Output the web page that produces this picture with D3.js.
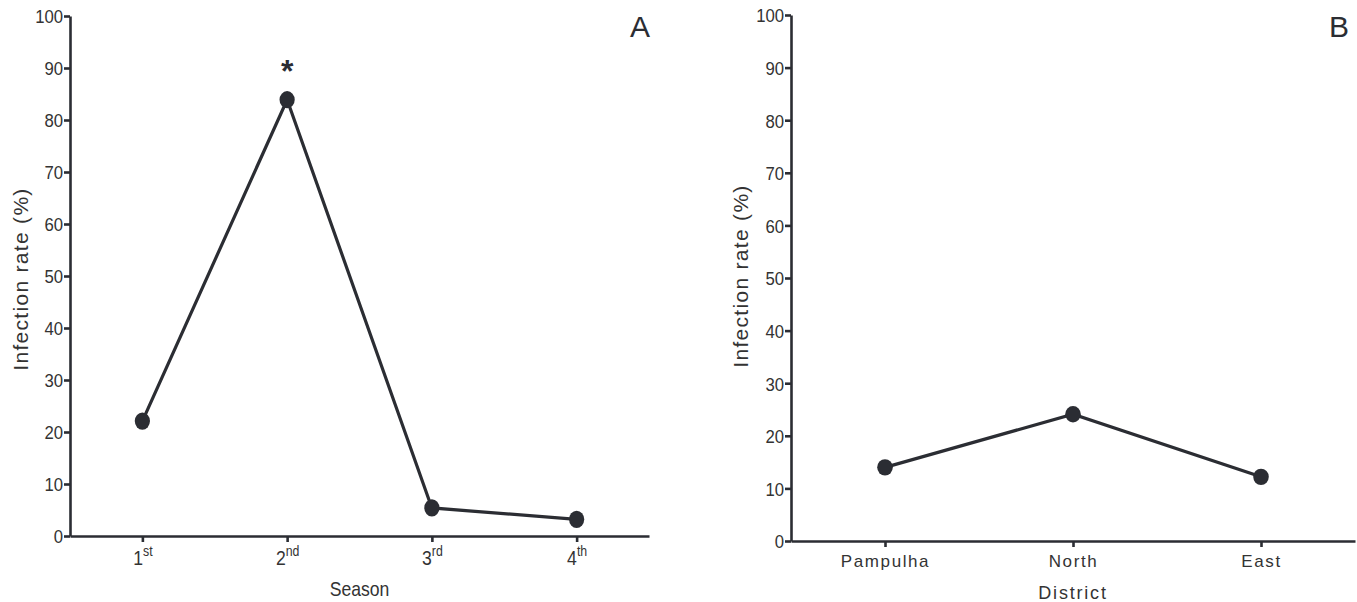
<!DOCTYPE html>
<html>
<head>
<meta charset="utf-8">
<script src="https://cdn.jsdelivr.net/npm/d3@7"></script>
<style>
  body { margin: 0; background: #fff; }
  svg { display: block; font-family: "Liberation Sans", Arial, sans-serif; }
</style>
</head>
<body>
<svg id="canvas"></svg>
<script>
// panel A - season
let seasons = ["1", "2", "3", "4"];
let seasonSup = ["st", "nd", "rd", "th"];
let seasonRates = [22.1, 83.9, 5.4, 3.2];
let starSeason = "2";

// panel B - district
let districts = ["Pampulha", "North", "East"];
let districtRates = [14.0, 24.1, 12.2];

let yTicks = [0, 10, 20, 30, 40, 50, 60, 70, 80, 90, 100];

let width = 1357;
let height = 602;
let ink = "#2b2d33";
let squeeze = 0.88;

let canvas = d3.select("#canvas");
canvas.attr("width", width).attr("height", height);

let drawPanel = (opt) => {
  let xScale = d3.scalePoint().domain(opt.cats).range([opt.x0, opt.x1]).padding(0.5);
  let yScale = d3.scaleLinear().domain([0, 100]).range([opt.y0, opt.y1]);

  let g = canvas.append("g");

  // y axis
  let yAxis = d3.axisLeft(yScale).tickValues(yTicks).tickSize(6).tickSizeOuter(0);
  let yg = g.append("g")
    .attr("transform", "translate(" + opt.x0 + ",0)")
    .call(yAxis);
  yg.select(".domain").attr("stroke", ink).attr("stroke-width", 2.6);
  yg.selectAll(".tick line").attr("stroke", ink).attr("stroke-width", 2.6);
  yg.selectAll(".tick text")
    .attr("x", -7 / squeeze)
    .attr("dy", "0.36em")
    .attr("transform", "scale(" + squeeze + ",1)")
    .attr("fill", "#333")
    .style("font-size", "19px");

  // x axis
  let xAxis = d3.axisBottom(xScale).tickSize(6).tickSizeOuter(0);
  let xg = g.append("g")
    .attr("transform", "translate(0," + opt.y0 + ")")
    .call(xAxis);
  xg.select(".domain").attr("stroke", ink).attr("stroke-width", 2.6);
  xg.selectAll(".tick line").attr("stroke", ink).attr("stroke-width", 2.6);
  xg.selectAll(".tick text")
    .attr("fill", "#333")
    .attr("y", opt.tickY)
    .attr("dy", 0)
    .style("font-size", opt.sup ? "20px" : "17px")
    .style("letter-spacing", opt.sup ? "0px" : "1.6px");

  if (opt.sup) {
    xg.selectAll(".tick text")
      .attr("transform", "scale(" + squeeze + ",1)")
      .each(function (d, i) {
        let t = d3.select(this);
        t.text(d);
        t.append("tspan")
          .attr("dy", -9)
          .style("font-size", "14px")
          .text(opt.sup[i]);
      });
  }

  // axis titles
  g.append("text")
    .attr("transform", "translate(" + (opt.x0 + opt.x1) / 2 + "," + opt.xTitleY + ") scale(" + opt.xTitleScale + ",1)")
    .attr("text-anchor", "middle")
    .attr("fill", "#333")
    .style("font-size", opt.xTitleSize)
    .style("letter-spacing", opt.xTitleSpacing)
    .text(opt.xTitle);

  g.append("text")
    .attr("transform", "translate(" + opt.yTitleX + "," + opt.yTitleMid + ") rotate(-90)")
    .attr("text-anchor", "middle")
    .attr("fill", "#333")
    .style("font-size", "21px")
    .style("letter-spacing", "1.3px")
    .text("Infection rate (%)");

  // panel letter
  g.append("text")
    .attr("x", opt.letterX)
    .attr("y", 37)
    .attr("text-anchor", "middle")
    .attr("fill", ink)
    .style("font-size", "30px")
    .text(opt.letter);

  // line + markers
  let pts = opt.cats.map((c, i) => ({ c: c, v: opt.values[i] }));
  let line = d3.line().x((d) => xScale(d.c)).y((d) => yScale(d.v));
  g.append("path")
    .datum(pts)
    .attr("d", line)
    .attr("fill", "none")
    .attr("stroke", ink)
    .attr("stroke-width", 3.2);

  g.selectAll("ellipse.dot")
    .data(pts)
    .enter()
    .append("ellipse")
    .attr("class", "dot")
    .attr("cx", (d) => xScale(d.c))
    .attr("cy", (d) => yScale(d.v))
    .attr("rx", opt.rx)
    .attr("ry", opt.ry)
    .attr("fill", ink);

  if (opt.star) {
    g.append("text")
      .attr("x", xScale(opt.star))
      .attr("y", yScale(opt.values[opt.cats.indexOf(opt.star)]) - 18)
      .attr("text-anchor", "middle")
      .attr("fill", ink)
      .style("font-size", "32px")
      .style("font-weight", "bold")
      .text("*");
  }
};

drawPanel({
  cats: seasons, values: seasonRates, sup: seasonSup, star: starSeason,
  x0: 70, x1: 649, y0: 536, y1: 16,
  tickY: 29, xTitle: "Season", xTitleY: 596, xTitleSpacing: "0px",
  xTitleSize: "20px", xTitleScale: squeeze,
  yTitleX: 28, yTitleMid: 279, letter: "A", letterX: 640, rx: 7.6, ry: 8.6
});

drawPanel({
  cats: districts, values: districtRates,
  x0: 791, x1: 1355, y0: 541, y1: 15,
  tickY: 26, xTitle: "District", xTitleY: 599, xTitleSpacing: "1.8px",
  xTitleSize: "18px", xTitleScale: 1,
  yTitleX: 748, yTitleMid: 276, letter: "B", letterX: 1339, rx: 7.8, ry: 8.2
});
</script>
</body>
</html>
